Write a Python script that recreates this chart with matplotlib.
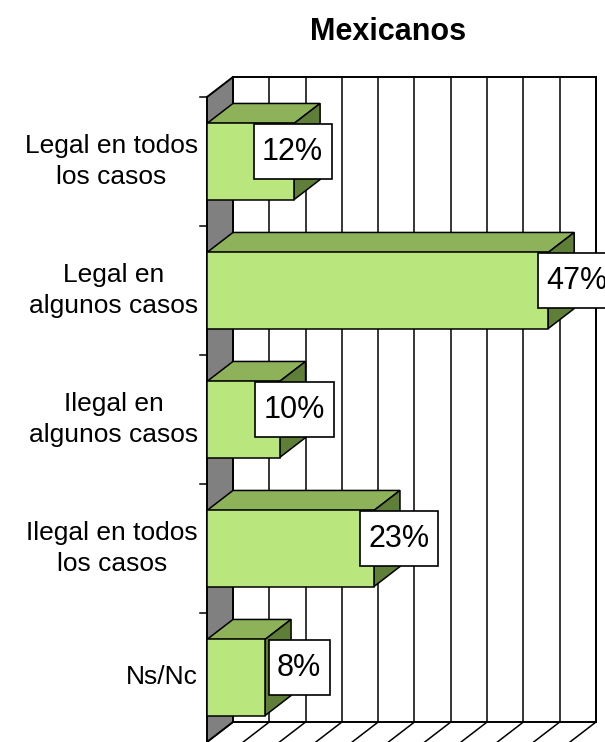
import matplotlib.pyplot as plt
from matplotlib.patches import Polygon
from matplotlib.path import Path

categories = ['Legal en todos\nlos casos', 'Legal en\nalgunos casos',
              'Ilegal en\nalgunos casos', 'Ilegal en todos\nlos casos', 'Ns/Nc']
values = [12, 47, 10, 23, 8]
labels = ['12%', '47%', '10%', '23%', '8%']
# where the value boxes sit (in % units)
label_x = [11.8, 51.0, 12.05, 26.4, 12.7]
grid_ticks = list(range(0, 55, 5))

plt.rcParams['font.family'] = ['Liberation Sans', 'DejaVu Sans']

fig = plt.figure(figsize=(6.05, 7.42), dpi=100)
ax = fig.add_axes([207/605, 0, 363/605, 645/742])
ax.set_xlim(0, 50)
ax.set_ylim(4.5, -0.5)
ax.axis('off')

dx = 3.58    # depth offset in x (% units)
dy = 0.155   # depth offset in y (category units)
h = 0.59     # bar thickness
top, bot = -0.5, 4.5

front_c = '#B9E77D'
top_c = '#8DB25A'
side_c = '#5F7E38'

def poly(pts, fc, ec='black', lw=1.1, z=1):
    p = Polygon(pts, closed=True, fc=fc, ec=ec, lw=lw, zorder=z, clip_on=False)
    ax.add_patch(p)

def tall_box(x0, y0, width, height, mutation_size):
    # square box, a bit more padding top/bottom than at the sides
    px, py = 0.28 * mutation_size, 0.40 * mutation_size
    x0, y0 = x0 - px, y0 - py
    x1, y1 = x0 + width + 2*px, y0 + height + 2*py
    return Path([(x0, y0), (x1, y0), (x1, y1), (x0, y1), (x0, y0)], closed=True)

# back wall
poly([(dx, top-dy), (50+dx, top-dy), (50+dx, bot-dy), (dx, bot-dy)], 'white', lw=1.4)
for g in grid_ticks:
    ax.plot([g+dx, g+dx], [top-dy, bot-dy], color='black', lw=1.1, clip_on=False, zorder=1.5)
    # floor lines
    ax.plot([g, g+dx], [bot, bot-dy], color='black', lw=1.1, clip_on=False, zorder=1.5)

# left side wall
poly([(0, top), (dx, top-dy), (dx, bot-dy), (0, bot)], '#808080', lw=1.4, z=2)

# category ticks
for b in [-0.5, 0.5, 1.5, 2.5, 3.5]:
    ax.plot([-0.96, 0], [b, b], color='black', lw=1.1, clip_on=False, zorder=2)

# bars
for i, v in enumerate(values):
    y0, y1 = i - h/2, i + h/2
    poly([(0, y0), (dx, y0-dy), (v+dx, y0-dy), (v, y0)], top_c, z=3)
    poly([(v, y0), (v+dx, y0-dy), (v+dx, y1-dy), (v, y1)], side_c, z=3)
    poly([(0, y0), (v, y0), (v, y1), (0, y1)], front_c, z=3)

# value boxes
for i, t in enumerate(labels):
    ax.text(label_x[i], i - dy/2, t, fontsize=22, ha='center', va='center', zorder=5,
            bbox=dict(boxstyle=tall_box, fc='white', ec='black', lw=1.2),
            clip_on=False)

# category labels
for i, c in enumerate(categories):
    ax.annotate(c, xy=(0, i), xytext=(-6.5, 0), textcoords='offset points',
                ha='right', va='center', multialignment='center', fontsize=19,
                linespacing=1.37)

fig.text(388/605, 1 - 32/742, 'Mexicanos', fontsize=22, fontweight='bold',
         ha='center', va='center')

fig.savefig('out.png', dpi=100)
